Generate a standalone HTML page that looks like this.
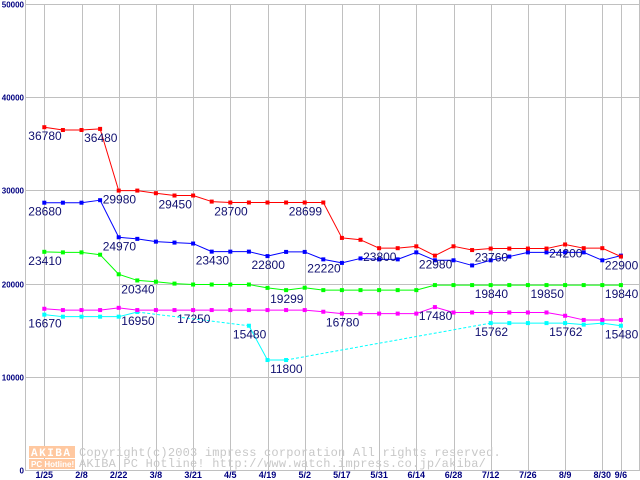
<!DOCTYPE html>
<html><head><meta charset="utf-8"><style>
html,body{margin:0;padding:0;background:#fff;}
svg{display:block;}
</style></head><body>
<svg id="chart" width="640" height="480" viewBox="0 0 640 480" xmlns="http://www.w3.org/2000/svg">
<g id="grid"></g>
<g id="watermark">
 <rect x="29" y="446" width="46" height="12" fill="#ffc8a0"/>
 <text x="31" y="456" font-family="Liberation Mono, monospace" font-size="11" font-weight="bold" fill="#fff" letter-spacing="1.5">AKIBA</text>
 <rect x="29" y="459" width="46" height="10" fill="#ffc8a0"/>
 <text x="31" y="467" font-family="Liberation Sans, sans-serif" font-size="8" font-weight="bold" fill="#fff">PC Hotline!</text>
 <text x="79" y="456" font-family="Liberation Mono, monospace" font-size="12" fill="#c8c8c8" letter-spacing="0.2">Copyright(c)2003 impress corporation All rights reserved.</text>
 <text x="79" y="467" font-family="Liberation Mono, monospace" font-size="12" fill="#c8c8c8" letter-spacing="0.2">AKIBA PC Hotline!  http://www.watch.impress.co.jp/akiba/</text>
</g>
<g id="series"></g>
<g id="labels"></g>
</svg>
<script>
const xTickLabels = ["1/25","2/8","2/22","3/8","3/21","4/5","4/19","5/2","5/17","5/31","6/14","6/28","7/12","7/26","8/9","8/30","9/6"];
const xTickIdx = [0,2,4,6,8,10,12,14,16,18,20,22,24,26,28,30,31];
const yTicks = [0,10000,20000,30000,40000,50000];
const redValues = [36780,36480,36480,36600,29980,29980,29700,29450,29450,28800,28700,28700,28700,28699,28699,28700,24900,24700,23800,23800,24000,23000,24000,23600,23760,23760,23760,23760,24200,23800,23800,22900];
const blueValues = [28680,28680,28680,28950,24970,24800,24500,24400,24300,23430,23430,23430,22950,23400,23400,22600,22220,22700,22600,22600,23350,22500,22500,21950,22500,22900,23350,23350,23350,23350,22500,23000];
const greenValues = [23410,23350,23350,23100,21000,20340,20200,20000,19900,19900,19900,19900,19540,19299,19560,19300,19300,19300,19300,19300,19300,19840,19840,19840,19840,19840,19840,19840,19840,19840,19840,19840];
const magentaValues = [17300,17160,17160,17160,17400,17160,17160,17160,17160,17160,17160,17160,17160,17160,17160,16980,16780,16780,16780,16780,16780,17480,16900,16900,16900,16900,16900,16900,16550,16100,16100,16100];
const cyanValues = [16670,16450,16450,16450,16450,16950,null,null,null,null,null,15480,11800,11800,null,null,null,null,null,null,null,null,null,null,15762,15762,15762,15762,15762,15600,15762,15480];
const annText = ["36780","36480","29980","29450","28700","28699","23800","22980","23760","24200","22900","28680","24970","23430","22800","22220","23410","20340","19299","19840","19850","19840","16670","16950","17250","15480","11800","16780","17480","15762","15762","15480"];
const annSeries = ["r","r","r","r","r","r","r","r","r","r","r","b","b","b","b","b","g","g","g","g","g","g","c","c","m","c","c","m","m","c","c","c"];
const annIdx = [0,3,4,7,10,14,18,21,24,28,31,0,4,9,12,15,0,5,13,24,27,31,0,5,8,11,13,16,21,24,28,31];

const NS="http://www.w3.org/2000/svg";
const X0=44.3, DX=18.6, Y0=470, YTOP=4, YMAX=50000;
const xs=k=>X0+k*DX;
const ys=v=>Y0-(v/YMAX)*(Y0-YTOP);
function mk(tag,attrs,parent){const e=document.createElementNS(NS,tag);for(const a in attrs)e.setAttribute(a,attrs[a]);parent.appendChild(e);return e;}
const grid=document.getElementById('grid');
// vertical lines
mk('line',{x1:25.5,y1:0,x2:25.5,y2:470,stroke:'#c0c0c0'},grid);
mk('line',{x1:639.5,y1:0,x2:639.5,y2:470,stroke:'#c0c0c0'},grid);
xTickIdx.forEach((k,i)=>{
  const x=Math.round(xs(k))+0.5;
  const l=mk('line',{x1:x,y1:4,x2:x,y2:470,stroke:'#c0c0c0'},grid);
  
  
  const t=mk('text',{x:xs(k),y:478,'text-anchor':'middle','font-family':'Liberation Sans, sans-serif','font-size':'9','font-weight':'bold',fill:'#000080'},grid);
  t.textContent=xTickLabels[i];
  
  
});
yTicks.forEach(v=>{
  const y=Math.round(ys(v))+0.5;
  const l=mk('line',{x1:25,y1:y,x2:640,y2:y,stroke:'#c0c0c0'},grid);
  
  
  const t=mk('text',{x:24,y:y+3,'text-anchor':'end','font-family':'Liberation Sans, sans-serif','font-size':'8','font-weight':'bold',fill:'#000080'},grid);
  t.textContent=String(v);
  
  
});
const seriesG=document.getElementById('series');
const colors={r:'#ff0000',b:'#0000ff',g:'#00ff00',m:'#ff00ff',c:'#00ffff'};
const data={r:redValues,b:blueValues,g:greenValues,m:magentaValues,c:cyanValues};
const names={r:'series-red',b:'series-blue',g:'series-green',m:'series-magenta',c:'series-cyan'};
['c','m','g','b','r'].forEach(s=>{
  const vals=data[s],col=colors[s];
  const g=mk('g',{},seriesG);
  
  
  let prev=null;
  vals.forEach((v,k)=>{
    if(v==null)return;
    if(prev!=null){
      const gap=k-prev>1;
      const ln=mk('line',{x1:xs(prev),y1:ys(vals[prev]),x2:xs(k),y2:ys(v),stroke:col,'stroke-width':1},g);
      if(gap)ln.setAttribute('stroke-dasharray','3,2');
    }
    prev=k;
  });
  vals.forEach((v,k)=>{
    if(v==null)return;
    const r=mk('rect',{x:xs(k)-2,y:ys(v)-2,width:4,height:4,fill:col},g);
    
    
  });
});
const lg=document.getElementById('labels');
annText.forEach((txt,i)=>{
  const k=annIdx[i],v=data[annSeries[i]][k];
  const t=mk('text',{x:xs(k)-16,y:ys(v)+13,'font-family':'Liberation Sans, sans-serif','font-size':'12',fill:'#101070'},lg);
  t.textContent=txt;
  
  
});
</script>
</body></html>
